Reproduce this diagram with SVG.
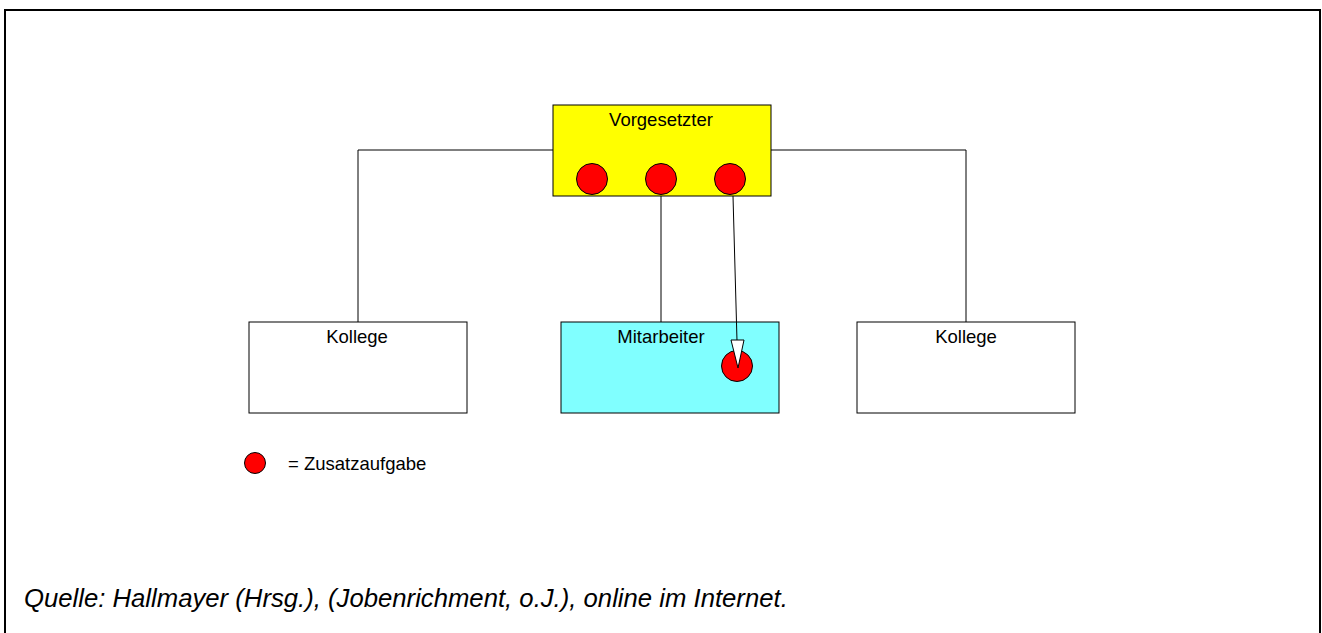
<svg xmlns="http://www.w3.org/2000/svg" width="1322" height="633" viewBox="0 0 1322 633">
<style>
.box{stroke:#000;stroke-width:1}
.lbl{font-family:"Liberation Sans",Arial,sans-serif;font-size:18.5px;fill:#000;text-anchor:middle}
.dot{fill:#f00;stroke:#000;stroke-width:1}
.conn{stroke:#000;stroke-width:1;fill:none}
</style>
<rect x="0" y="0" width="1322" height="633" fill="#fff"/>
<path d="M5,633 V10 H1320 V633" fill="none" stroke="#000" stroke-width="2"/>
<g id="vorgesetzter">
<rect class="box" x="553" y="105" width="218" height="91" fill="#ff0"/>
<text class="lbl" x="661" y="126">Vorgesetzter</text>
<circle class="dot" cx="592" cy="179" r="15.5"/>
<circle class="dot" cx="661" cy="179" r="15.5"/>
<circle class="dot" cx="730" cy="179" r="15.5"/>
</g>
<g id="kollege-links">
<rect class="box" x="249" y="322" width="218" height="91" fill="#fff"/>
<text class="lbl" x="357" y="343">Kollege</text>
</g>
<g id="mitarbeiter">
<rect class="box" x="561" y="322" width="218" height="91" fill="#80ffff"/>
<text class="lbl" x="661" y="343">Mitarbeiter</text>
<circle class="dot" cx="737" cy="366" r="15.5"/>
</g>
<g id="kollege-rechts">
<rect class="box" x="857" y="322" width="218" height="91" fill="#fff"/>
<text class="lbl" x="966" y="343">Kollege</text>
</g>
<g id="connectors">
<polyline class="conn" points="553,150 358,150 358,322"/>
<polyline class="conn" points="771,150 966,150 966,322"/>
<line class="conn" x1="661" y1="196" x2="661" y2="322" stroke="#555"/>
<line x1="733" y1="196" x2="737" y2="341" stroke="#000" stroke-width="1"/>
<polygon points="731,340 744,340 738,368" fill="#fff" stroke="#000" stroke-width="1"/>
</g>
<g id="legende">
<circle class="dot" cx="255" cy="463" r="10.5"/>
<text x="288" y="470" font-family="Liberation Sans,Arial,sans-serif" font-size="18.5">= Zusatzaufgabe</text>
</g>
<text x="24" y="607" font-family="Liberation Sans,Arial,sans-serif" font-size="25.7" font-style="italic">Quelle: Hallmayer (Hrsg.), (Jobenrichment, o.J.), online im Internet.</text>
</svg>
